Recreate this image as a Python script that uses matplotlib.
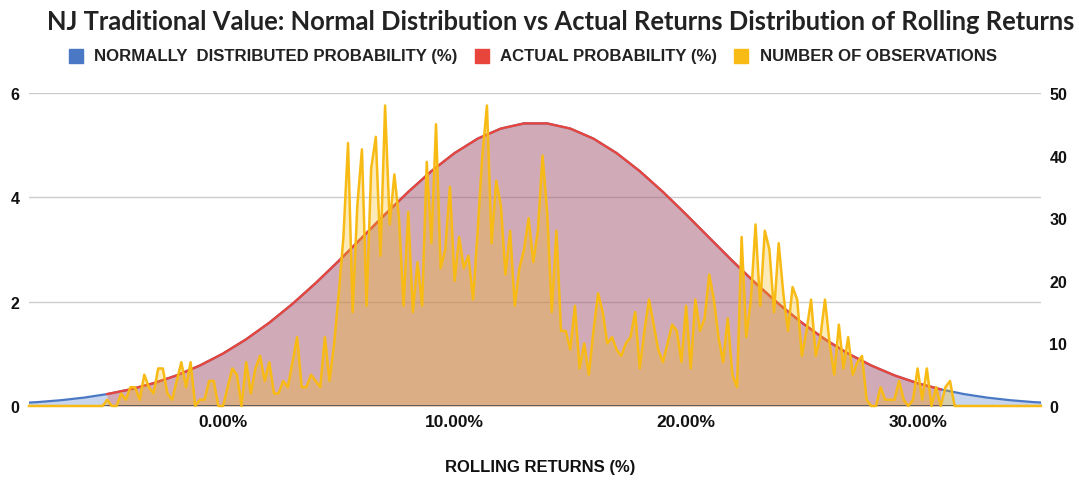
import numpy as np
import matplotlib
matplotlib.use("Agg")
import matplotlib.pyplot as plt
from matplotlib.patches import Rectangle
from matplotlib import font_manager

# fonts: Arial-like bold for the Sheets-style labels, Lato for the title
installed = {f.name for f in font_manager.fontManager.ttflist}
LABEL_FONT = "Liberation Sans" if "Liberation Sans" in installed else "DejaVu Sans"
TITLE_FONT = "Lato" if "Lato" in installed else "DejaVu Sans"

BLUE = "#4A78C4"
RED = "#E8453C"
YELLOW = "#F8BA14"

# normally distributed probability (%), read every 1% of return
norm_returns = list(range(-9, 37))
norm_prob = [0.050, 0.075, 0.111, 0.161, 0.229, 0.319, 0.437, 0.587, 0.776, 1.005,
             1.279, 1.597, 1.957, 2.355, 2.782, 3.227, 3.673, 4.104, 4.502, 4.848,
             5.125, 5.318, 5.417, 5.417, 5.318, 5.125, 4.848, 4.502, 4.104, 3.673,
             3.227, 2.782, 2.355, 1.957, 1.597, 1.279, 1.005, 0.776, 0.587, 0.437,
             0.319, 0.229, 0.161, 0.111, 0.075, 0.050]

# actual probability (%), only over the range of observed returns
actual_returns = list(range(-5, 32))
actual_prob = [0.229, 0.319, 0.437, 0.587, 0.776, 1.005, 1.279, 1.597, 1.957, 2.355,
               2.782, 3.227, 3.673, 4.104, 4.502, 4.848, 5.125, 5.318, 5.417, 5.417,
               5.318, 5.125, 4.848, 4.502, 4.104, 3.673, 3.227, 2.782, 2.355, 1.957,
               1.597, 1.279, 1.005, 0.776, 0.587, 0.437, 0.319]

# number of observations, every 0.2% of return from -5.2% to 31.4%
obs_returns = np.round(np.arange(-26, 158) * 0.2, 1)
obs_counts = [
    0, 1, 0, 0, 2, 1, 3, 3, 1, 5, 3, 2, 6, 6, 2, 1, 4, 7, 3, 7,
    0, 1, 1, 4, 4, 0, 0, 3, 6, 5, 0, 7, 2, 6, 8, 4, 7, 2, 2, 4,
    3, 7, 11, 3, 3, 5, 4, 3, 11, 4, 10, 18, 27, 42, 15, 32, 41, 16, 38, 43,
    24, 48, 29, 37, 30, 16, 31, 15, 23, 16, 39, 26, 45, 22, 25, 35, 20, 27, 22, 24,
    17, 28, 40, 48, 26, 36, 32, 21, 28, 16, 22, 25, 30, 23, 28, 40, 31, 15, 28, 12,
    12, 9, 16, 6, 10, 5, 12, 18, 15, 10, 11, 9, 8, 10, 11, 15, 6, 12, 17, 13,
    9, 7, 10, 13, 12, 7, 16, 6, 17, 12, 14, 21, 17, 11, 7, 14, 5, 3, 27, 11,
    17, 29, 16, 28, 25, 15, 26, 18, 12, 19, 17, 8, 12, 17, 8, 11, 17, 10, 5, 13,
    6, 11, 5, 7, 8, 1, 0, 0, 3, 1, 1, 1, 4, 1, 0, 1, 6, 1, 6, 0,
    3, 0, 3, 4,
]

x_ticks = [0, 10, 20, 30]
x_tick_labels = ["0.00%", "10.00%", "20.00%", "30.00%"]
left_ticks = [0, 2, 4, 6]
right_ticks = [0, 10, 20, 30, 40, 50]
legend_labels = ["NORMALLY  DISTRIBUTED PROBABILITY (%)", "ACTUAL PROBABILITY (%)",
                 "NUMBER OF OBSERVATIONS"]

X_MIN, X_MAX = -8.38, 35.33

# zero counts outside the observed range so the line runs edge to edge
obs_x = np.concatenate([[X_MIN, -5.4], obs_returns, [31.6, X_MAX]])
obs_y = np.concatenate([[0, 0], obs_counts, [0, 0]])

W, H = 1079, 481
fig = plt.figure(figsize=(W / 100, H / 100), dpi=100)
ax = fig.add_axes([29 / W, 1 - 407 / H, (1041 - 29) / W, (407 - 94) / H])
ax2 = ax.twinx()

# probability areas on the left axis
ax.fill_between(norm_returns, norm_prob, color=BLUE, alpha=0.3, lw=0)
ax.fill_between(actual_returns, actual_prob, color=RED, alpha=0.3, lw=0)
ax.plot(norm_returns, norm_prob, color=BLUE, lw=1.6)
ax.plot(actual_returns, actual_prob, color=RED, lw=1.7)
ax.set_xlim(X_MIN, X_MAX)
ax.set_ylim(0, 6)
ax.yaxis.grid(True, color="#cccccc", lw=1)
ax.set_axisbelow(True)

# observation counts on the right axis
ax2.fill_between(obs_x, obs_y, color=YELLOW, alpha=0.3, lw=0, zorder=1)
ax2.axhline(0, color="#555555", lw=1.3, zorder=1.5)
ax2.plot(obs_x, obs_y, color=YELLOW, lw=1.8, zorder=2, clip_on=False)
ax2.set_ylim(0, 50)

for a in (ax, ax2):
    for s in a.spines.values():
        s.set_visible(False)
    a.tick_params(length=0)

tick_font = dict(fontfamily=LABEL_FONT, fontweight="bold", color="#111111")
ax.set_xticks(x_ticks)
ax.set_xticklabels(x_tick_labels, fontsize=12.5, **tick_font)
ax.tick_params(axis="x", pad=6)
ax.set_yticks(left_ticks)
ax.set_yticklabels([str(t) for t in left_ticks], fontsize=11.5, **tick_font)
ax.tick_params(axis="y", pad=7)
ax2.set_yticks(right_ticks)
ax2.set_yticklabels([str(t) for t in right_ticks], fontsize=11.5, **tick_font)
ax2.tick_params(axis="y", pad=6)

fig.text(561 / W, 1 - 22 / H,
         "NJ Traditional Value: Normal Distribution vs Actual Returns Distribution of Rolling Returns",
         ha="center", va="center", fontfamily=TITLE_FONT, fontweight="bold", fontsize=18.4,
         color="#222222")

# legend row
legend_pos = [(69, 94), (475, 500), (734, 760)]
for (sq_x, txt_x), label, c in zip(legend_pos, legend_labels, [BLUE, RED, YELLOW]):
    fig.patches.append(Rectangle((sq_x / W, 1 - 64 / H), 14 / W, 14 / H,
                                 transform=fig.transFigure, color=c))
    fig.text(txt_x / W, 1 - 57 / H, label, ha="left", va="center", fontfamily=LABEL_FONT,
             fontweight="bold", fontsize=12.1, color="#222222")

fig.text(540 / W, 1 - 468 / H, "ROLLING RETURNS (%)", ha="center", va="center",
         fontfamily=LABEL_FONT, fontweight="bold", fontsize=12, color="#111111")

fig.savefig("out.png", dpi=100)
